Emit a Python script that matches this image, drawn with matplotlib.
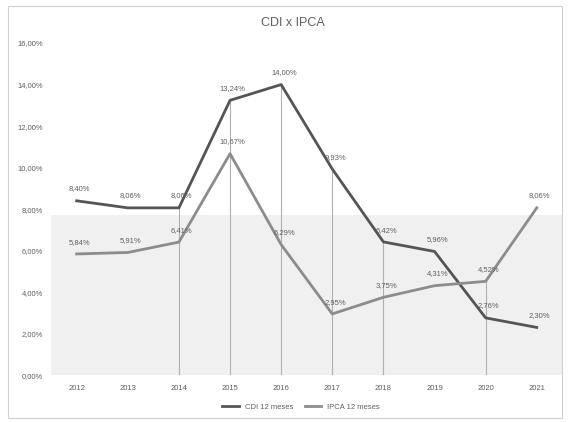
import matplotlib
matplotlib.use("Agg")
import matplotlib.pyplot as plt
from matplotlib.ticker import FuncFormatter

plt.rcParams['font.family'] = ['Liberation Sans', 'DejaVu Sans']

years = ["2012", "2013", "2014", "2015", "2016", "2017", "2018", "2019", "2020", "2021"]
cdi = [8.40, 8.06, 8.06, 13.24, 14.00, 9.93, 6.42, 5.96, 2.76, 2.30]
ipca = [5.84, 5.91, 6.41, 10.67, 6.29, 2.95, 3.75, 4.31, 4.52, 8.06]
drop_years = ["2014", "2015", "2016", "2017", "2018", "2020"]
series_names = ["CDI 12 meses", "IPCA 12 meses"]
title = "CDI x IPCA"

txt = "#606060"
fig = plt.figure(figsize=(5.68, 4.22), dpi=100)
ax = fig.add_axes([0.09, 0.111, 0.90, 0.787])

x = list(range(len(years)))
ax.axhspan(0, 7.7, color="#f0f0f0", zorder=0, lw=0)

for i, y in enumerate(years):
    if y in drop_years:
        ax.plot([i, i], [0, max(cdi[i], ipca[i])], color="#b0b0b0", lw=0.8, zorder=1)

ax.plot(x, cdi, color="#555555", lw=2.0, label=series_names[0], zorder=3)
ax.plot(x, ipca, color="#8c8c8c", lw=2.0, label=series_names[1], zorder=3)

def pct(v):
    return f"{v:.2f}%".replace(".", ",")

for i in x:
    ax.annotate(pct(cdi[i]), (i, cdi[i]), xytext=(2, 6), textcoords="offset points",
                ha="center", va="bottom", fontsize=5.5, color=txt, zorder=4)
    ax.annotate(pct(ipca[i]), (i, ipca[i]), xytext=(2, 6), textcoords="offset points",
                ha="center", va="bottom", fontsize=5.5, color=txt, zorder=4)

ax.set_xlim(-0.5, len(years) - 0.5)
ax.set_ylim(0, 16)
ax.set_yticks(range(0, 17, 2))
ax.yaxis.set_major_formatter(FuncFormatter(lambda v, p: pct(v)))
ax.set_xticks(x)
ax.set_xticklabels(years)
ax.tick_params(axis="both", length=0, labelsize=5.5, colors=txt)
ax.tick_params(axis="x", pad=7)
ax.tick_params(axis="y", pad=6)
for s in ax.spines.values():
    s.set_visible(False)

fig.text(0.515, 0.945, title, ha="center", va="center", fontsize=9, color=txt)
fig.legend(loc="center", bbox_to_anchor=(0.53, 0.035), ncol=2, frameon=False,
           fontsize=5.5, labelcolor=txt, handlelength=2.2, columnspacing=1.5)

border = plt.Rectangle((0.014, 0.01), 0.975, 0.975, transform=fig.transFigure,
                       fill=False, edgecolor="#d0d0d0", lw=0.8)
fig.patches.append(border)

fig.savefig("out.png", dpi=100)
